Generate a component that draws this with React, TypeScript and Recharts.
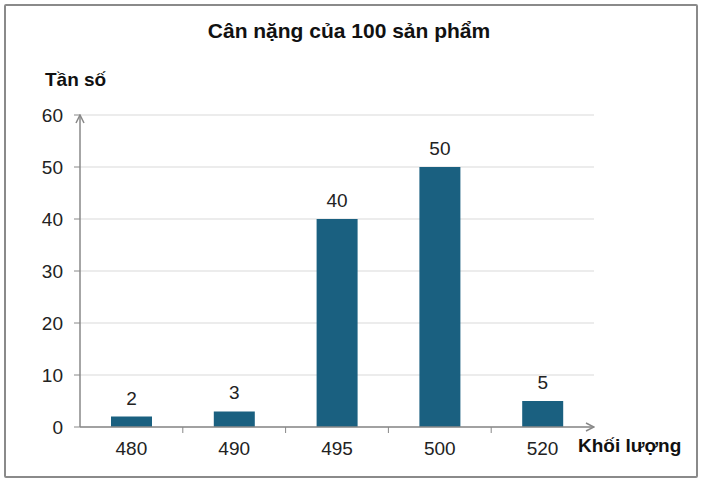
import React from 'react';
import { BarChart, Bar, XAxis, YAxis, CartesianGrid, LabelList } from 'recharts';

// Khối lượng (g) và tần số tương ứng
const weights = ['480', '490', '495', '500', '520'];
const frequencies = [2, 3, 40, 50, 5];
const yTicks = [0, 10, 20, 30, 40, 50, 60];

const data = weights.map((w, i) => ({ name: w, value: frequencies[i] }));

const W = 706;
const H = 480;
const X_AXIS_H = 30;
const MARGIN = { top: 115, right: 112, bottom: 53 - X_AXIS_H, left: 20 };
const Y_AXIS_W = 60;
const PLOT_W = W - MARGIN.left - MARGIN.right - Y_AXIS_W;
const HALF_BAND = PLOT_W / weights.length / 2;

const FONT = '"Liberation Sans", Arial, sans-serif';

// tick label + small separator line at the left edge of each band
const CategoryTick = (props: any) => {
  const { x, y, payload, index } = props;
  return (
    <g>
      {index > 0 && (
        <line x1={x - HALF_BAND} x2={x - HALF_BAND} y1={y - 15} y2={y - 9} stroke="#888" strokeWidth={1} />
      )}
      <text x={x} y={y} dy="0.71em" textAnchor="middle" fill="#222" fontSize={19} fontFamily={FONT}>
        {payload.value}
      </text>
    </g>
  );
};

const App: React.FC = () => {
  return (
    <div style={{ position: 'absolute', left: 0, top: 0, width: W, height: H, background: '#fff', fontFamily: FONT }}>
      <svg width={0} height={0} style={{ position: 'absolute' }}>
        <defs>
          <marker id="arrowHead" viewBox="0 0 10 10" refX="9" refY="5" markerWidth="10" markerHeight="10"
            markerUnits="userSpaceOnUse" orient="auto-start-reverse">
            <path d="M1,1 L9,5 L1,9" fill="none" stroke="#888" strokeWidth={1.5} />
          </marker>
        </defs>
      </svg>

      {/* Frame */}
      <div style={{ position: 'absolute', left: 4, top: 4, width: 690, height: 470, border: '2px solid #8a8a8a', borderRadius: 2 }} />

      <div style={{ position: 'absolute', left: 0, top: 19, width: W - 8, textAlign: 'center', fontWeight: 'bold', fontSize: 21, color: '#111' }}>
        Cân nặng của 100 sản phẩm
      </div>
      <div style={{ position: 'absolute', left: 45, top: 69, fontWeight: 'bold', fontSize: 19, color: '#111' }}>
        Tần số
      </div>
      <div style={{ position: 'absolute', left: 578, top: 435, fontWeight: 'bold', fontSize: 19, color: '#111' }}>
        Khối lượng
      </div>

      <div style={{ position: 'absolute', left: 0, top: 0 }}>
        <BarChart width={W} height={H} data={data} margin={MARGIN}>
          <CartesianGrid vertical={false} stroke="#d9d9d9" />
          <XAxis
            dataKey="name"
            height={X_AXIS_H}
            axisLine={{ stroke: '#888', strokeWidth: 1.5, markerEnd: 'url(#arrowHead)' }}
            tickLine={false}
            tickSize={6}
            tickMargin={9}
            tick={<CategoryTick />}
            interval={0}
          />
          <YAxis
            domain={[0, 60]}
            ticks={yTicks}
            width={Y_AXIS_W}
            axisLine={{ stroke: '#888', strokeWidth: 1.5, markerStart: 'url(#arrowHead)' }}
            tickLine={{ stroke: '#888' }}
            tickSize={6}
            tickMargin={11}
            tick={{ fill: '#222', fontSize: 19, fontFamily: FONT }}
          />
          <Bar dataKey="value" fill="#1a6080" barSize={41} isAnimationActive={false}>
            <LabelList dataKey="value" position="top" offset={12} fill="#222" fontSize={19} fontFamily={FONT} />
          </Bar>
        </BarChart>
      </div>
    </div>
  );
};

export default App;
